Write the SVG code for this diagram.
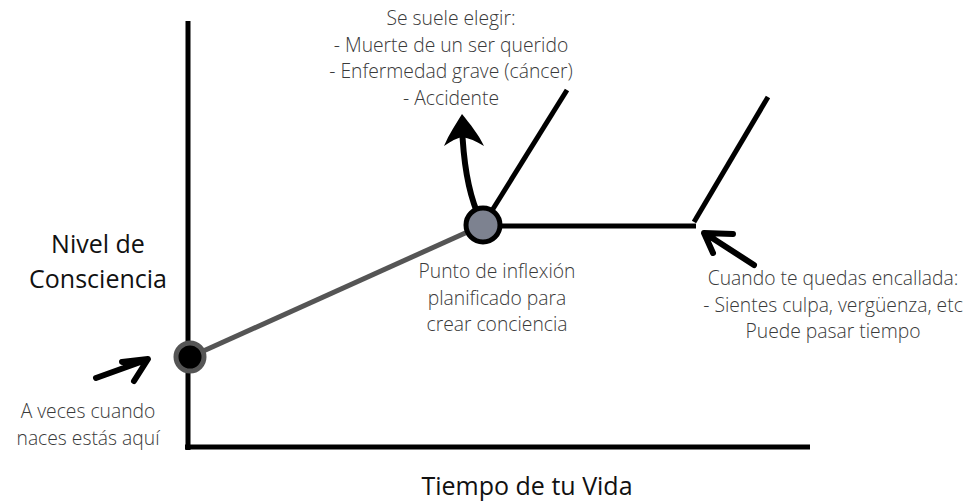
<svg xmlns="http://www.w3.org/2000/svg" width="972" height="503" viewBox="0 0 972 503">
<style>
.ax{font-family:"Open Sans","Noto Sans",sans-serif;font-size:25px;fill:#111;text-anchor:middle}
.an{font-family:"Open Sans","Noto Sans",sans-serif;font-weight:300;font-size:19.3px;fill:#3a3a3a;text-anchor:middle}
.ln{stroke:#000;stroke-width:5;fill:none}
.brush{fill:none;stroke:#000;stroke-width:6;stroke-linecap:round;stroke-linejoin:round}
</style>
<rect width="972" height="503" fill="#fff"/>
<g id="axes">
<line class="ln" x1="188" y1="21" x2="188" y2="450" stroke-width="6"/>
<line class="ln" x1="185" y1="447" x2="810" y2="447" stroke-width="6"/>
</g>
<g id="connectors">
<line x1="190" y1="357" x2="483" y2="225" stroke="#555" stroke-width="5"/>
<line class="ln" x1="483" y1="225" x2="567" y2="90"/>
<line class="ln" x1="483" y1="226" x2="696" y2="226"/>
<line class="ln" x1="694" y1="222" x2="768" y2="97"/>
<path class="brush" d="M477,212 Q464,180 462,126" stroke-width="7"/>
<path d="M462,114 C456,124 449,134 444,146 C451,141 457,138 462,137 C469,138 476,141 484,146 C479,135 470,124 462,114 Z" fill="#000"/>
<path class="brush" d="M96,378 L146,360 M122,362 L148,359 L134,381" stroke-width="6"/>
<path class="brush" d="M754,265 L706,234 M733,234 L704,233 L713,253" stroke-width="6"/>
</g>
<g id="node-start">
<circle cx="190" cy="357" r="14" fill="#000" stroke="#555" stroke-width="5"/>
</g>
<g id="node-inflexion">
<circle cx="483" cy="225" r="17" fill="#7d8290" stroke="#000" stroke-width="5"/>
</g>
<g id="labels">
<text class="ax" x="98" y="253">Nivel de</text>
<text class="ax" x="98" y="288">Consciencia</text>
<text class="ax" x="527" y="495">Tiempo de tu Vida</text>
<text class="an" x="451" y="25">Se suele elegir:</text>
<text class="an" x="451" y="52">- Muerte de un ser querido</text>
<text class="an" x="451" y="78">- Enfermedad grave (cáncer)</text>
<text class="an" x="451" y="105">- Accidente</text>
<text class="an" x="497" y="278">Punto de inflexión</text>
<text class="an" x="497" y="305">planificado para</text>
<text class="an" x="497" y="331">crear conciencia</text>
<text class="an" x="833" y="285">Cuando te quedas encallada:</text>
<text class="an" x="833" y="312">- Sientes culpa, vergüenza, etc</text>
<text class="an" x="833" y="338">Puede pasar tiempo</text>
<text class="an" x="88" y="418">A veces cuando</text>
<text class="an" x="88" y="445">naces estás aquí</text>
</g>
</svg>
